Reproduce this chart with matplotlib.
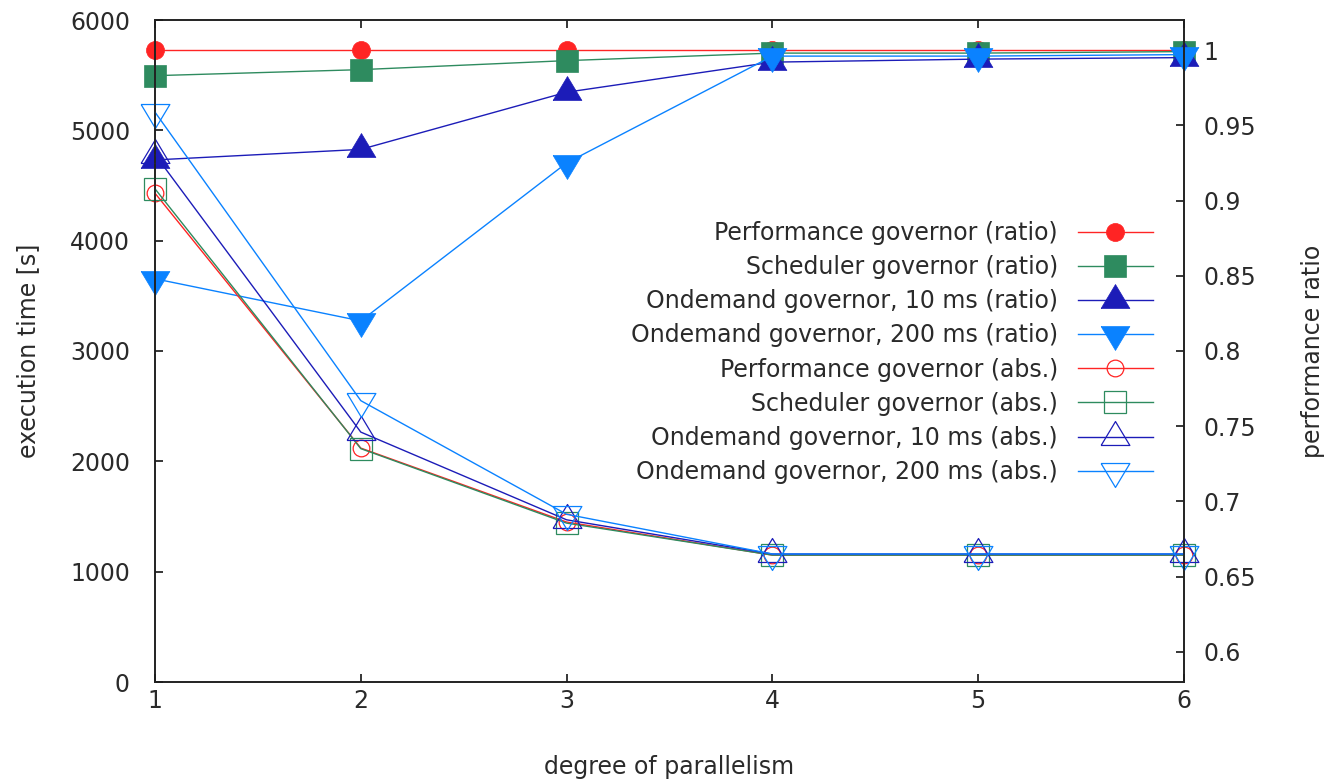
import matplotlib
matplotlib.use("Agg")
import matplotlib.pyplot as plt
from matplotlib.ticker import FuncFormatter, MultipleLocator

# degree of parallelism
parallelism = [1, 2, 3, 4, 5, 6]

# performance ratio (right axis)
perf_ratio = [1.000, 1.000, 1.000, 1.000, 1.000, 1.000]
sched_ratio = [0.983, 0.987, 0.993, 0.998, 0.998, 0.999]
od10_ratio = [0.927, 0.934, 0.972, 0.992, 0.994, 0.995]
od200_ratio = [0.848, 0.820, 0.925, 0.996, 0.996, 0.997]

# absolute execution time in seconds (left axis)
perf_abs = [4430, 2120, 1450, 1150, 1150, 1150]
sched_abs = [4470, 2115, 1440, 1150, 1150, 1150]
od10_abs = [4780, 2265, 1470, 1160, 1160, 1160]
od200_abs = [5165, 2550, 1520, 1160, 1160, 1160]

labels_ratio = [
    "Performance governor (ratio)",
    "Scheduler governor (ratio)",
    "Ondemand governor, 10 ms (ratio)",
    "Ondemand governor, 200 ms (ratio)",
]
labels_abs = [
    "Performance governor (abs.)",
    "Scheduler governor (abs.)",
    "Ondemand governor, 10 ms (abs.)",
    "Ondemand governor, 200 ms (abs.)",
]

RED = "#ff2424"
GREEN = "#2e8b5f"
DBLUE = "#1c1cb8"
LBLUE = "#0a82ff"
TXT = "#2a2a2a"

plt.rcParams["font.family"] = ["DejaVu Sans"]
FS = 17

# gnuplot-like triangles: centroid at the data point, wide base
TRI_UP = [(-0.9, -0.5), (0.9, -0.5), (0.0, 1.0), (-0.9, -0.5)]
TRI_DN = [(-0.9, 0.5), (0.9, 0.5), (0.0, -1.0), (-0.9, 0.5)]

W, H = 1325, 782
fig = plt.figure(figsize=(W / 100, H / 100), dpi=100)
ax = fig.add_axes([155 / W, (H - 682) / H, 1029 / W, 662 / H])
ax2 = ax.twinx()

LW = 1.0
styles_ratio = [
    dict(color=RED, marker="o", ms=13),
    dict(color=GREEN, marker="s", ms=15.5),
    dict(color=DBLUE, marker=TRI_UP, ms=23),
    dict(color=LBLUE, marker=TRI_DN, ms=23),
]
styles_abs = [
    dict(color=RED, marker="o", ms=12),
    dict(color=GREEN, marker="s", ms=15.5),
    dict(color=DBLUE, marker=TRI_UP, ms=23),
    dict(color=LBLUE, marker=TRI_DN, ms=23),
]

handles = []
for vals, st, lab in zip([perf_ratio, sched_ratio, od10_ratio, od200_ratio],
                         styles_ratio, labels_ratio):
    h, = ax2.plot(parallelism, vals, color=st["color"], lw=LW,
                  marker=st["marker"], ms=st["ms"], mfc=st["color"],
                  mec=st["color"], mew=0.5, clip_on=False, label=lab)
    handles.append(h)

for vals, st, lab in zip([perf_abs, sched_abs, od10_abs, od200_abs],
                         styles_abs, labels_abs):
    h, = ax.plot(parallelism, vals, color=st["color"], lw=LW,
                 marker=st["marker"], ms=st["ms"], mfc="none",
                 mec=st["color"], mew=0.9, clip_on=False, label=lab)
    handles.append(h)

# the absolute-time axes sits on top of the ratio axes
ax.set_zorder(ax2.get_zorder() + 1)
ax.patch.set_visible(False)

ax.set_xlim(1, 6)
ax.set_ylim(0, 6000)
ax2.set_ylim(0.58, 1.02)
ax.set_xticks(parallelism)
ax.yaxis.set_major_locator(MultipleLocator(1000))
ax2.set_yticks([0.6, 0.65, 0.7, 0.75, 0.8, 0.85, 0.9, 0.95, 1.0])
ax2.yaxis.set_major_formatter(FuncFormatter(lambda v, p: "%g" % v))

for a in (ax, ax2):
    for s in a.spines.values():
        s.set_linewidth(1.2)
        s.set_color("#222222")

ax.tick_params(axis="x", direction="in", top=True, length=6, width=1.1,
               labelsize=FS, labelcolor=TXT, pad=5)
ax.tick_params(axis="y", direction="in", left=True, right=False, length=6,
               width=1.1, labelsize=FS, labelcolor=TXT, pad=18)
ax2.tick_params(axis="y", direction="in", right=True, length=6, width=1.1,
                labelsize=FS, labelcolor=TXT, pad=14)

ax.set_xlabel("degree of parallelism", fontsize=FS, color=TXT)
ax.xaxis.set_label_coords(0.5, -0.128)
ax.xaxis.label.set_va("center")
ax.set_ylabel("execution time [s]", fontsize=FS, color=TXT)
ax.yaxis.set_label_coords(-0.1234, 0.5)
ax.yaxis.label.set_va("center")
ax2.set_ylabel("performance ratio", fontsize=FS, color=TXT)
ax2.yaxis.set_label_coords(1.1254, 0.5)
ax2.yaxis.label.set_va("center")

ax.legend(handles=handles, loc="upper right",
          bbox_to_anchor=(0.9699, 0.6964), frameon=False, fontsize=FS,
          markerfirst=False, handlelength=3.18, handletextpad=0.85,
          labelspacing=0.43, borderpad=0, borderaxespad=0, numpoints=1,
          labelcolor=TXT)

fig.savefig("out.png", dpi=100)
